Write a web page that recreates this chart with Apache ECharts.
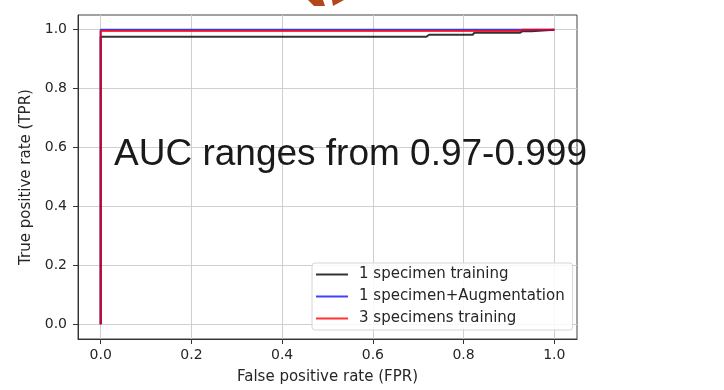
<!DOCTYPE html>
<html>
<head>
<meta charset="utf-8">
<script src="https://cdn.jsdelivr.net/npm/echarts@6/dist/echarts.min.js"></script>
<style>html,body{margin:0;padding:0;background:#fff}#c{width:724px;height:390px}</style>
</head>
<body>
<div id="c"></div>
<script>
var seriesNames = ['1 specimen training', '1 specimen+Augmentation', '3 specimens training'];
var blackFPR = [0, 0, 0.718, 0.724, 0.82, 0.824, 0.925, 0.93, 0.95, 0.952, 1.0];
var blackTPR = [0, 0.976, 0.976, 0.983, 0.983, 0.99, 0.99, 0.995, 0.995, 1.0, 1.0];
var blueFPR = [0, 0, 1.0];
var blueTPR = [0, 1.0, 1.0];
var redFPR = [0, 0, 0.925, 0.93, 1.0];
var redTPR = [0, 0.996, 0.996, 1.0, 1.0];
var xTicks = [0, 0.2, 0.4, 0.6, 0.8, 1.0];
var yTicks = [0, 0.2, 0.4, 0.6, 0.8, 1.0];
var annotation = 'AUC ranges from 0.97-0.999';
var xTitle = 'False positive rate (FPR)';
var yTitle = 'True positive rate (TPR)';

function pairs(xs, ys) { return xs.map(function (x, i) { return [x, ys[i]]; }); }
var font = 'DejaVu Sans';
var txt = '#262626';
var chart = echarts.init(document.getElementById('c'), null, {renderer: 'canvas'});
function axisCommon(ticks, name) {
  return {
    type: 'value', min: -0.05, max: 1.05,
    name: name, nameLocation: 'middle',
    nameTextStyle: {fontFamily: font, fontSize: 15, color: txt},
    axisLine: {show: true, onZero: false, lineStyle: {color: '#333', width: 1}},
    axisTick: {show: true, inside: false, length: 5, lineStyle: {color: '#333'}, customValues: ticks},
    axisLabel: {fontFamily: font, fontSize: 14, color: txt, customValues: ticks,
      formatter: function (v) { return v.toFixed(1); }},
    splitLine: {show: true, lineStyle: {color: '#cfcfcf', width: 1}}
  };
}
var xa = axisCommon(xTicks, xTitle); xa.nameGap = 31; xa.axisLabel.margin = 9;
var ya = axisCommon(yTicks, yTitle); ya.nameGap = 41; ya.axisLabel.margin = 11;
var colors = ['rgba(0,0,0,0.8)', 'rgba(0,0,255,0.75)', 'rgba(255,0,0,0.8)'];
var datas = [pairs(blackFPR, blackTPR), pairs(blueFPR, blueTPR), pairs(redFPR, redTPR)];
chart.setOption({
  animation: false,
  backgroundColor: '#fff',
  grid: {left: 78, right: 147, top: 15, bottom: 50, show: true, borderColor: '#444', borderWidth: 1, backgroundColor: 'transparent'},
  xAxis: xa,
  yAxis: ya,
  legend: {
    orient: 'vertical', left: 312, top: 263,
    data: seriesNames.map(function (n) { return {name: n, icon: 'rect'}; }),
    itemWidth: 32, itemHeight: 2, itemGap: 7,
    padding: [4, 8, 4, 4],
    backgroundColor: 'rgba(255,255,255,0.85)',
    borderColor: '#d6d6d6', borderWidth: 1, borderRadius: 3,
    textStyle: {fontFamily: font, fontSize: 15, color: txt, lineHeight: 15, padding: [0, 0, 0, 6]}
  },
  graphic: [
    {type: 'text', left: 114, top: 136, silent: true, z: 100,
     style: {text: annotation, font: '37px "Liberation Sans", Arial, sans-serif', fill: '#1a1a1a'}},
    {type: 'polygon', silent: true, shape: {points: [[308, 0], [323, 0], [325, 6], [314, 6]]}, style: {fill: '#b4461c'}},
    {type: 'polygon', silent: true, shape: {points: [[332, 0], [344, 0], [333, 6]]}, style: {fill: '#b4461c'}}
  ],
  series: seriesNames.map(function (n, i) {
    return {name: n, type: 'line', data: datas[i], showSymbol: false, symbol: 'none',
      lineStyle: {color: colors[i], width: 2}, itemStyle: {color: colors[i]}, z: 3 + i, clip: false};
  })
});
</script>
</body>
</html>
